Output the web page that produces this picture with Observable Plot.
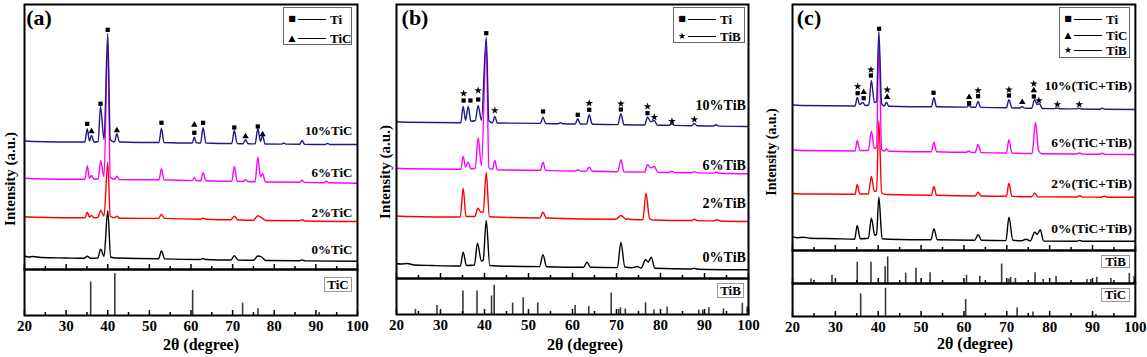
<!DOCTYPE html>
<html><head><meta charset="utf-8">
<script src="https://cdn.jsdelivr.net/npm/d3@7"></script>
<script src="https://cdn.jsdelivr.net/npm/@observablehq/plot@0.6"></script>
<style>
body{margin:0;background:#fff}
#c{position:relative;width:1147px;height:357px;overflow:hidden;font-family:"Liberation Serif","Times New Roman",serif;font-weight:bold;color:#000}
#c svg{position:absolute;overflow:visible}
.t{position:absolute;line-height:1;white-space:nowrap}
.box{position:absolute;border:1px solid #777;background:#fff;box-sizing:border-box}
</style></head><body><div id="c"></div>
<script>
// ---------- shared ----------
const majorTicks = [20,30,40,50,60,70,80,90,100];
const minorTicks = [25,35,45,55,65,75,85,95];
const seriesColors = ["#000000","#ff0000","#ff00ff","#1c1c84"];
const phaseNames = ["Ti","TiC","TiB"];
const phaseGlyphs = {Ti:"\u25A0", TiC:"\u25B2", TiB:"\u2605"};

// reference patterns [2theta, relative intensity]
const refTiC = [[35.9,80],[41.7,100],[60.4,60],[72.4,30],[76.1,16],[90.8,7]];
const refTiB = [[24.3,17],[29.2,31],[35.1,80],[38.3,80],[41.6,63],[42.2,100],[46.4,39],[48.8,57],[52.1,40],[60.6,31],[63.7,27],[68.8,73],[70.5,17],[70.9,23],[72.0,19],[76.6,40],[78.5,15],[81.5,26],[88.7,15],[89.6,15],[91.0,23],[94.3,19],[98.6,38],[99.7,26]];

// ---------- panel (a): Ti + TiC ----------
const namesA = ["0%TiC","2%TiC","6%TiC","10%TiC"];
const offsetsA = [12, 52.3, 90.7, 128];
const liftA = [8, 4.7, 6.3, 11];
const a0 = [[20,1.5],[21,0.5],[22,1],[24,0],[30,-0.5],[34.3,-0.8],[35.1,1.2],[35.9,-0.8],[37.6,-0.5],[38.3,8.4],[39.1,1],[40.0,46.7],[40.7,0.5],[42,-0.5],[52.2,-1.3],[52.9,6.5],[53.7,-1.4],[62.3,-2],[62.9,-1],[63.6,-2],[69.6,-2.5],[70.4,1.7],[71.3,-2.6],[75.0,-2.8],[76.05,1.5],[77.0,0.5],[78.0,-3],[86.0,-3.3],[86.7,-2.5],[87.4,-3.4],[100,-3.8]];
const a2 = [[20,0.5],[23,0],[34.5,-0.5],[35.1,5],[35.6,0],[36.1,1.7],[36.7,-0.5],[37.6,-0.3],[38.3,6.7],[39.1,1],[40.0,55],[40.6,1],[41.6,-0.5],[42.2,1],[42.8,-1],[52.2,-1.2],[52.9,3],[53.6,-1.2],[62.3,-2],[62.9,-1],[63.6,-2],[69.6,-2.5],[70.4,1],[71.2,-2.5],[75.0,-3],[76.05,1.4],[77.1,-1],[78.0,-3.3],[86.0,-3.6],[86.7,-2.5],[87.4,-3.8],[100,-4.3]];
const a6 = [[20,0.5],[22,0],[34.5,-0.5],[35.1,13],[35.6,0.5],[36.1,3.3],[36.7,-0.5],[37.7,0],[38.3,18],[39.1,2],[40.0,138],[40.6,1.5],[41.6,-0.5],[42.2,2.5],[42.8,-0.8],[52.3,-1],[52.9,10],[53.5,-1],[60.3,-1.8],[60.8,1],[61.3,-1.8],[62.3,-2],[62.9,6],[63.6,-2],[69.8,-2.5],[70.4,12.3],[71.1,-2.5],[72.5,-2.7],[73.1,-1],[73.7,-2.8],[75.4,-3],[76.05,21.6],[76.7,2],[77.2,5],[77.9,-3.2],[86.1,-3.5],[86.7,-1.5],[87.3,-3.6],[91.9,-4],[92.5,-2.5],[93.1,-4],[100,-4.4]];
const a10 = [[20,0.5],[22,0],[34.5,-0.5],[35.06,12.7],[35.6,0.5],[36.1,6],[36.7,-0.5],[37.7,0],[38.26,35],[39.1,2],[40.0,108],[40.6,2],[41.6,-0.5],[42.2,7.7],[42.8,-0.5],[52.3,-1],[52.9,13.3],[53.5,-1],[60.3,-1.5],[60.8,4.3],[61.3,-1.3],[62.3,-1.5],[62.9,13.7],[63.6,-1.5],[69.8,-2],[70.4,11],[71.1,-2],[72.5,-2.2],[73.1,1.7],[73.7,-2.2],[75.4,-2.4],[76.05,12.7],[76.7,0],[77.2,6],[77.8,-2.5],[81.8,-2.6],[82.3,-1.5],[82.8,-2.6],[86.1,-2.7],[86.7,1],[87.3,-2.8],[92.2,-3],[92.8,-2],[93.4,-3],[100,-3]];
const markersA = [[35.06,"Ti",17.7],[36.1,"TiC",10],[38.26,"Ti",37.7],[40.0,"Ti",111.7],[42.2,"TiC",11],[52.9,"Ti",18.7],[60.8,"Ti",8.7],[60.8,"TiC",16.7],[62.9,"Ti",18.7],[70.4,"Ti",14],[73.1,"TiC",5],[76.05,"Ti",15],[77.2,"TiC",7]];

// ---------- panel (b): Ti + TiB ----------
const namesB = ["0%TiB","2%TiB","6%TiB","10%TiB"];
const offsetsB = [13.5, 62, 109.7, 156.3];
const liftB = [7.5, 13, 3.3, 16.7];
const b0 = [[20,1.5],[21,1],[22.5,1.5],[24,0],[28,-0.5],[34.5,-1],[35.15,12.8],[35.9,-0.5],[37.7,0],[38.4,21.8],[39.3,4],[39.7,5],[40.4,44.5],[41.2,-0.5],[43,-1],[52.5,-1.6],[53.3,10.2],[54.1,-1.7],[62.5,-2.2],[63.3,2.8],[64.1,-2.3],[70.2,-2.6],[71.0,22.5],[71.9,-2],[73.5,-2.8],[74.7,-1.5],[75.6,-3],[76.6,5.2],[77.2,3],[77.9,7.8],[78.7,-3.2],[87.0,-4],[87.7,-3.3],[88.4,-4.2],[100,-4.8]];
const b2 = [[20,0.5],[23,0],[34.5,-0.5],[35.15,28.3],[35.8,0],[37.8,0],[38.5,8.3],[39.2,4.3],[39.7,4.5],[40.4,44],[41.1,0],[42,-0.5],[52.6,-1.5],[53.3,4.3],[54.0,-1.5],[69.8,-2.8],[71.0,1],[72.2,-2.8],[72.7,-2.3],[73.2,-3],[76.0,-3.3],[76.7,23.3],[77.5,-2],[78.3,-3.5],[87.0,-4],[87.7,-2.8],[88.4,-4.1],[92.0,-4.4],[92.8,-3.3],[93.6,-4.5],[100,-5]];
const b6 = [[20,0.5],[22,0],[34.6,-0.5],[35.15,12.3],[35.7,2],[36.3,6.6],[36.9,0],[37.9,0.5],[38.56,31],[39.3,3],[40.4,125],[41.0,1],[41.8,-0.5],[42.35,8.3],[42.9,-1],[52.7,-1.5],[53.3,6.6],[53.9,-1.6],[60.6,-2.2],[61.2,-1],[61.8,-2.3],[63.1,-2.4],[63.8,1.5],[64.5,-2.5],[70.3,-2.9],[71.0,9],[71.7,-3],[76.4,-3.3],[77.05,4],[77.8,1],[78.6,2.3],[79.4,-3.6],[82.0,-3.7],[82.6,-2.5],[83.2,-3.8],[87.1,-4],[87.7,-2.8],[88.3,-4.1],[92.0,-4.3],[92.65,-3.2],[93.3,-4.4],[100,-5]];
const b10 = [[20,0.5],[22,0],[34.6,-0.5],[35.15,15.7],[35.7,2],[36.3,15.7],[36.9,1],[37.9,1.5],[38.56,16.7],[39.3,2],[40.4,85],[41.0,1.5],[41.8,-0.5],[42.35,5.7],[42.9,-0.8],[52.7,-1.2],[53.3,5],[53.9,-1.3],[56.8,-1.5],[57.3,-0.5],[57.8,-1.6],[60.6,-1.8],[61.2,3.4],[61.8,-1.8],[63.2,-1.9],[63.8,7.4],[64.5,-2],[70.3,-2.4],[71.0,8.4],[71.7,-2.5],[76.4,-2.8],[77.05,5],[77.8,0.5],[78.6,1.7],[79.3,-3],[82.0,-3.1],[82.6,-1.6],[83.2,-3.2],[87.1,-3.5],[87.7,-1.3],[88.3,-3.6],[92.0,-3.8],[92.65,-2.5],[93.3,-3.9],[100,-4.3]];
const markersB = [[35.25,"Ti",21.7],[35.25,"TiB",28.7],[36.8,"Ti",21.7],[38.56,"Ti",22.7],[38.56,"TiB",31.7],[40.4,"Ti",89],[42.35,"TiB",11.7],[53.3,"Ti",10.7],[61.2,"Ti",7.4],[63.8,"Ti",12.4],[63.8,"TiB",19],[71.0,"Ti",12.7],[71.0,"TiB",18.4],[77.05,"Ti",9],[77.05,"TiB",15.7],[78.6,"TiB",5],[82.6,"TiB",1],[87.7,"TiB",2.7]];

// ---------- panel (c): Ti + TiC + TiB ----------
const namesC = ["0%(TiC+TiB)","2%(TiC+TiB)","6%(TiC+TiB)","10%(TiC+TiB)"];
const offsetsC = [12.3, 56.5, 100, 145];
const liftC = [9.4, 10.2, 8.3, 20];
const c0 = [[20,1.5],[21,0.5],[22.5,1],[24,0],[30,-0.5],[34.5,-1],[35.1,12.7],[35.8,-0.5],[37.7,0],[38.4,20],[39.2,3],[39.6,4],[40.15,41],[40.9,-0.5],[42.5,-1],[52.3,-1.5],[53.0,9.4],[53.8,-1.6],[62.5,-2],[63.3,3.4],[64.1,-2.1],[69.8,-2.4],[70.5,21],[71.4,-2],[73.5,-2.6],[74.5,-1],[75.5,-2.7],[76.5,6],[77.1,4],[77.8,8.4],[78.6,-2.9],[86.3,-3],[87.0,-2.2],[87.7,-3.1],[100,-3]];
const c2 = [[20,0.5],[23,0],[34.6,-0.3],[35.1,9.5],[35.7,0],[37.7,0],[38.4,17.5],[39.1,2.5],[39.6,3],[40.15,73.5],[40.8,1],[42,-0.5],[52.4,-1.2],[53.0,7.5],[53.6,-1.2],[62.6,-2],[63.3,1.8],[64.0,-2],[69.9,-2.3],[70.5,10.8],[71.2,-2.4],[75.8,-2.8],[76.5,0.8],[77.3,-2.9],[86.3,-3],[87.0,-1.8],[87.7,-3.1],[92.1,-3.2],[92.8,-2.2],[93.5,-3.2],[100,-3.3]];
const c6 = [[20,0.5],[22,0],[34.6,-0.5],[35.1,10],[35.7,0],[37.7,0],[38.4,19.3],[39.1,2],[39.6,3],[40.15,110],[40.8,1],[41.4,-0.5],[41.9,1.5],[42.5,-0.8],[52.4,-1.3],[53.0,8.3],[53.6,-1.3],[60.6,-1.8],[61.15,-0.5],[61.7,-1.9],[62.6,-2],[63.3,6],[64.0,-2.1],[69.9,-2.5],[70.5,10.7],[71.2,-2.6],[75.9,-3],[76.7,28.3],[77.4,0],[78.1,-3.2],[86.3,-3.5],[87.0,-2.5],[87.7,-3.6],[91.7,-3.8],[92.3,-2.8],[92.9,-3.9],[100,-4]];
const c10 = [[20,0.5],[22,0],[34.6,-0.5],[35.1,8],[35.7,1],[36.4,3],[37.0,0],[37.8,0.5],[38.4,25],[39.1,3],[39.6,4],[40.15,74],[40.8,1.5],[41.4,-0.5],[41.9,3],[42.5,-0.7],[52.4,-1.2],[53.0,7.7],[53.6,-1.2],[60.6,-1.6],[61.15,0.3],[61.7,-1.7],[62.7,-1.8],[63.3,4],[63.9,-1.9],[69.9,-2.2],[70.5,5.7],[71.2,-2.3],[73.0,-2.5],[73.6,-1.3],[74.2,-2.6],[75.8,-2.8],[76.5,5.7],[77.1,1],[77.6,1.7],[78.3,-3],[81.1,-3.1],[81.7,-2.5],[82.3,-3.2],[86.2,-3.4],[86.8,-2.7],[87.4,-3.5],[91.7,-3.7],[92.3,-2.7],[92.9,-3.8],[100,-4]];
const markersC = [[35.2,"Ti",12.3],[35.2,"TiB",19],[36.6,"Ti",7.3],[36.6,"TiC",13.3],[38.3,"Ti",30],[38.3,"TiB",35.7],[40.2,"Ti",76.7],[42.1,"TiC",8.3],[42.1,"TiB",15.7],[52.9,"Ti",12.7],[61.2,"Ti",2.3],[61.2,"TiC",8.3],[63.3,"Ti",9.3],[63.3,"TiB",15],[70.5,"Ti",10],[70.5,"TiB",15.7],[73.6,"TiC",3.3],[76.3,"Ti",9],[76.3,"TiC",15],[76.3,"TiB",21.7],[77.5,"TiB",5],[81.8,"TiB",1],[86.9,"TiB",1]];

// ---------- layout ----------
const root = document.getElementById("c");
const FONT = "'Liberation Serif','Times New Roman',serif";

function place(svg, left, top) {
  svg.style.left = left + "px"; svg.style.top = top + "px";
  root.appendChild(svg);
}
// short inward ticks along the bottom edge of a box of inner height h
function tickMarks(h) {
  return [
    Plot.tickX(majorTicks, {x: d => d, insetTop: h - 5, stroke: "black", strokeWidth: 1.5}),
    Plot.tickX(minorTicks, {x: d => d, insetTop: h - 3, stroke: "black", strokeWidth: 1.5})
  ];
}
function upper(P, series, offsets, names, lifts, markers, labelX, labelSize) {
  const w = P.R - P.L, h = P.B1 - P.T, top = series.length - 1;
  const svg = Plot.plot({
    width: w + 4, height: h + 4, margin: 2,
    x: {domain: [20, 100], axis: null}, y: {domain: [0, h], axis: null},
    symbol: {domain: phaseNames, range: ["square", "triangle", "star"]},
    style: {fontFamily: FONT, fontWeight: "bold", background: "transparent"},
    marks: [
      ...series.map((pts, i) => Plot.line(pts, {x: d => d[0], y: d => d[1] + offsets[i], stroke: seriesColors[i], strokeWidth: 1.4, curve: "monotone-x"})),
      Plot.dot(markers, {x: d => d[0], y: d => d[2] + offsets[top], symbol: d => d[1], fill: "black", r: 2.4}),
      Plot.text(names, {x: labelX, y: (d, i) => offsets[i] + lifts[i], text: d => d, textAnchor: "end", fontSize: labelSize, fill: "black"}),
      ...tickMarks(h),
      Plot.frame({stroke: "black", strokeWidth: 2})
    ]
  });
  place(svg, P.L - 2, P.T - 2);
}
function refBox(P, y0, y1, ref, yMax, withLabels) {
  const w = P.R - P.L, h = y1 - y0;
  const extra = withLabels ? 24 : 0;
  const svg = Plot.plot({
    width: w + 4, height: h + 4 + extra, marginLeft: 2, marginRight: 2, marginTop: 2, marginBottom: 2 + extra,
    x: {domain: [20, 100], axis: null}, y: {domain: [0, yMax], axis: null},
    style: {fontFamily: FONT, fontWeight: "bold", background: "transparent"},
    marks: [
      Plot.ruleX(ref, {x: d => d[0], y1: 0, y2: d => d[1], stroke: "#3a3a3a", strokeWidth: 1.6}),
      ...tickMarks(h),
      ...(withLabels ? [Plot.axisX(majorTicks, {tickSize: 0, tickPadding: 5, fontSize: 15, label: null, fill: "black"})] : []),
      Plot.frame({stroke: "black", strokeWidth: 2})
    ]
  });
  place(svg, P.L - 2, y0 - 2);
}
function text(str, x, y, size, rotate) {
  const d = document.createElement("div");
  d.className = "t"; d.textContent = str;
  d.style.left = x + "px"; d.style.top = y + "px"; d.style.fontSize = size + "px";
  d.style.transform = "translate(-50%,-50%)" + (rotate ? " rotate(-90deg)" : "");
  root.appendChild(d);
}
function tagBox(str, x0, y0, x1, y1, size) {
  const d = document.createElement("div");
  d.className = "box"; d.textContent = str;
  d.style.cssText += `left:${x0}px;top:${y0}px;width:${x1-x0}px;height:${y1-y0}px;font-size:${size}px;line-height:${y1-y0-2}px;text-align:center;border-color:#999`;
  root.appendChild(d);
}
function legend(x0, y0, x1, y1, phases, rows) {
  const b = document.createElement("div");
  b.className = "box";
  b.style.cssText += `left:${x0}px;top:${y0}px;width:${x1-x0}px;height:${y1-y0}px;border-color:#666`;
  phases.forEach((p, i) => {
    const ry = rows[i];
    const s = document.createElement("div");
    s.className = "t"; s.textContent = phaseGlyphs[p];
    s.style.cssText += `left:8px;top:${ry}px;font-size:${p === "Ti" ? 8 : 9}px;font-family:'DejaVu Sans';transform:translate(-50%,-50%)`;
    const l = document.createElement("div");
    l.style.cssText = `position:absolute;left:14px;width:28px;top:${ry - 0.5}px;height:0;border-top:1px solid #000`;
    const t = document.createElement("div");
    t.className = "t"; t.textContent = p;
    t.style.cssText += `left:46px;top:${ry}px;font-size:13px;transform:translateY(-50%)`;
    b.append(s, l, t);
  });
  root.appendChild(b);
}

const PA = {L: 24, R: 357, T: 4, B1: 269, B2: 315};
const PB = {L: 396.3, R: 748.3, T: 4, B1: 278, B2: 314};
const PC = {L: 791.6, R: 1134.5, T: 4, B1: 250, B2: 283, B3: 316};

upper(PA, [a0, a2, a6, a10], offsetsA, namesA, liftA, markersA, 98.8, 13);
refBox(PA, PA.B1, PA.B2, refTiC, 110, true);
upper(PB, [b0, b2, b6, b10], offsetsB, namesB, liftB, markersB, 99.4, 14);
refBox(PB, PB.B1, PB.B2, refTiB, 123, true);
upper(PC, [c0, c2, c6, c10], offsetsC, namesC, liftC, markersC, 99.2, 13.5);
refBox(PC, PC.B1, PC.B2, refTiB, 124, false);
refBox(PC, PC.B2, PC.B3, refTiC, 117, true);

// panel letters
text("(a)", 39, 18, 22);
text("(b)", 415, 18, 22);
text("(c)", 809, 18, 22);
// axis titles
text("2\u03B8 (degree)", 201, 345, 16);
text("2\u03B8 (degree)", 585, 345, 16);
text("2\u03B8 (degree)", 975, 344, 16);
text("Intensity (a.u.)", 10, 179, 15, true);
text("Intensity (a.u.)", 385, 172, 15, true);
text("Intensity (a.u.)", 772, 152, 14, true);
// reference tags
tagBox("TiC", 324, 277, 352, 292, 13);
tagBox("TiB", 717, 283, 744, 298, 13);
tagBox("TiB", 1101, 255, 1130, 268, 13);
tagBox("TiC", 1101, 288, 1130, 302, 13);
// legends
legend(283, 7, 352, 45, ["Ti", "TiC"], [11, 30]);
legend(673, 7, 745, 43, ["Ti", "TiB"], [11, 28]);
legend(1059, 7, 1130, 58, ["Ti", "TiC", "TiB"], [11, 27, 42]);
</script></body></html>
